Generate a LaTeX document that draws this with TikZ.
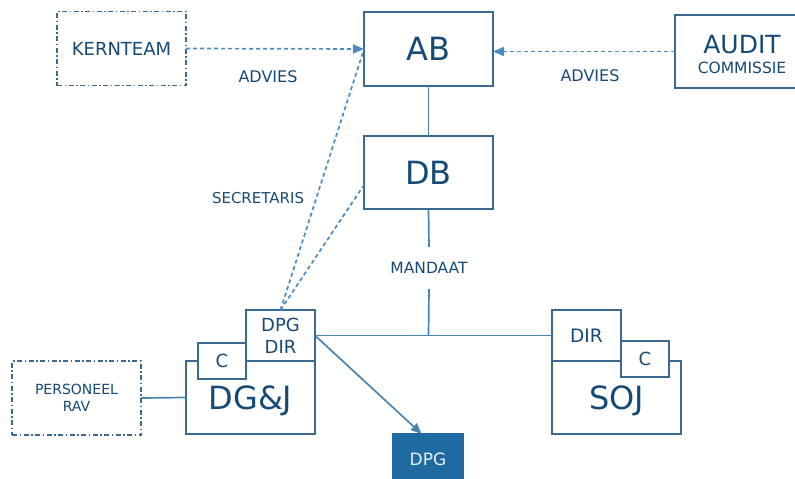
\documentclass[tikz,border=0pt]{standalone}
\usepackage{fontspec}
\setmainfont{DejaVu Sans}
\usetikzlibrary{arrows.meta,calc}
\definecolor{txt}{RGB}{22,74,118}
\definecolor{bord}{RGB}{58,106,146}
\definecolor{dashc}{RGB}{76,140,194}
\definecolor{linec}{RGB}{72,132,178}
\definecolor{dpgfill}{RGB}{31,106,160}
\definecolor{dpgtxt}{RGB}{232,240,247}
\newcommand{\fs}[2]{\fontsize{#1}{#2}\selectfont}
\begin{document}
\begin{tikzpicture}[x=1pt,y=-1pt,
  box/.style={draw=bord,line width=1.8pt,fill=white,inner sep=0pt,outer sep=0pt,text=txt,align=center,text depth=0pt},
  dashbox/.style={box,line width=1.4pt,dash pattern=on 5pt off 2.5pt on 1.5pt off 2.5pt},
  lbl/.style={text=txt,inner sep=0pt,anchor=base},
  dline/.style={draw=dashc,line width=1.7pt,dash pattern=on 4pt off 3pt},
  sline/.style={draw=linec,line width=1.7pt},
  dtip/.style={-{Triangle[length=11pt,width=9pt,fill=dashc]}},
  stip/.style={-{Triangle[length=11pt,width=9pt,fill=linec]}}
]
\useasboundingbox (0,0) rectangle (795,479);

% top row
\node[dashbox,minimum width=129pt,minimum height=74pt,font=\fs{18}{22}] (kern) at (121.5,48.5) {KERNTEAM};
\node[box,minimum width=129pt,minimum height=74pt,font=\fs{32}{38}] (ab) at (428.5,49) {AB};
\node[box,minimum width=121pt,minimum height=73pt] (audit) at (735.5,51.5) {};
\node[lbl,font=\fs{25}{30}] (audit1) at (742,53) {AUDIT};
\node[lbl,font=\fs{15.5}{18}] (audit2) at (742,73) {COMMISSIE};

\node[box,minimum width=129pt,minimum height=73pt,font=\fs{32}{38}] (db) at (428.5,172.5) {DB};

% DG&J group
\node[dashbox,minimum width=129pt,minimum height=74pt,font=\fs{14}{17.4}] (pers) at (76.5,398) {PERSONEEL\\RAV};
\node[box,minimum width=129pt,minimum height=73pt,font=\fs{32}{38}] (dgj) at (250.5,397.5) {DG\&J};
\node[box,minimum width=48pt,minimum height=36pt,font=\fs{18}{22}] (cl) at (222,361) {C};
\node[box,minimum width=69pt,minimum height=51pt,font=\fs{18}{22}] (dpgdir) at (280.5,335.5) {DPG\\DIR};

% SOJ group
\node[box,minimum width=129pt,minimum height=73pt,font=\fs{32}{38}] (soj) at (616.5,397.5) {SOJ};
\node[box,minimum width=69pt,minimum height=51pt,font=\fs{18.5}{22}] (sojdir) at (586.5,335.5) {DIR};
\node[box,minimum width=48pt,minimum height=36pt,font=\fs{18}{22}] (sojc) at (645,359) {C};

% DPG
\node[box,draw=dpgfill,fill=dpgfill,text=dpgtxt,minimum width=70pt,minimum height=50pt,font=\fs{17}{20}] (dpg) at (428,459) {DPG};

% labels
\node[lbl,font=\fs{16}{19}] (adv1) at (268,82.5) {ADVIES};
\node[lbl,font=\fs{16}{19}] (adv2) at (590,81.5) {ADVIES};
\node[lbl,font=\fs{15}{18}] (secr) at (258,203.3) {SECRETARIS};
\node[text=txt,inner sep=0pt,minimum height=42pt,font=\fs{15.5}{18},text depth=0pt] (mand) at (429,268) {MANDAAT};

% connectors
\coordinate (jn) at (db.south |- dpgdir.east);
\coordinate (dbin) at ($(db.north west)!0.67!(db.south west)$);
\coordinate (dpgtip) at ($(dpg.north west)!0.82!(dpg.north)$);

\draw[dline,dtip] (kern.east) -- (ab.west);
\draw[dline,dtip] (audit.west) -- (audit.west -| ab.east);
\draw[dline] (dpgdir.north) -- (ab.west);
\draw[dline] (dpgdir.north) -- (dbin);
\draw[sline] (ab.south) -- (db.north);
\draw[sline] (db.south) -- (mand.north);
\draw[sline] (mand.south) -- (jn);
\draw[sline] (dpgdir.east) -- (sojdir.west);
\draw[sline] (pers.east) -- (dgj.west);
\draw[sline,stip] (dpgdir.east) -- (dpgtip);
\end{tikzpicture}
\end{document}
